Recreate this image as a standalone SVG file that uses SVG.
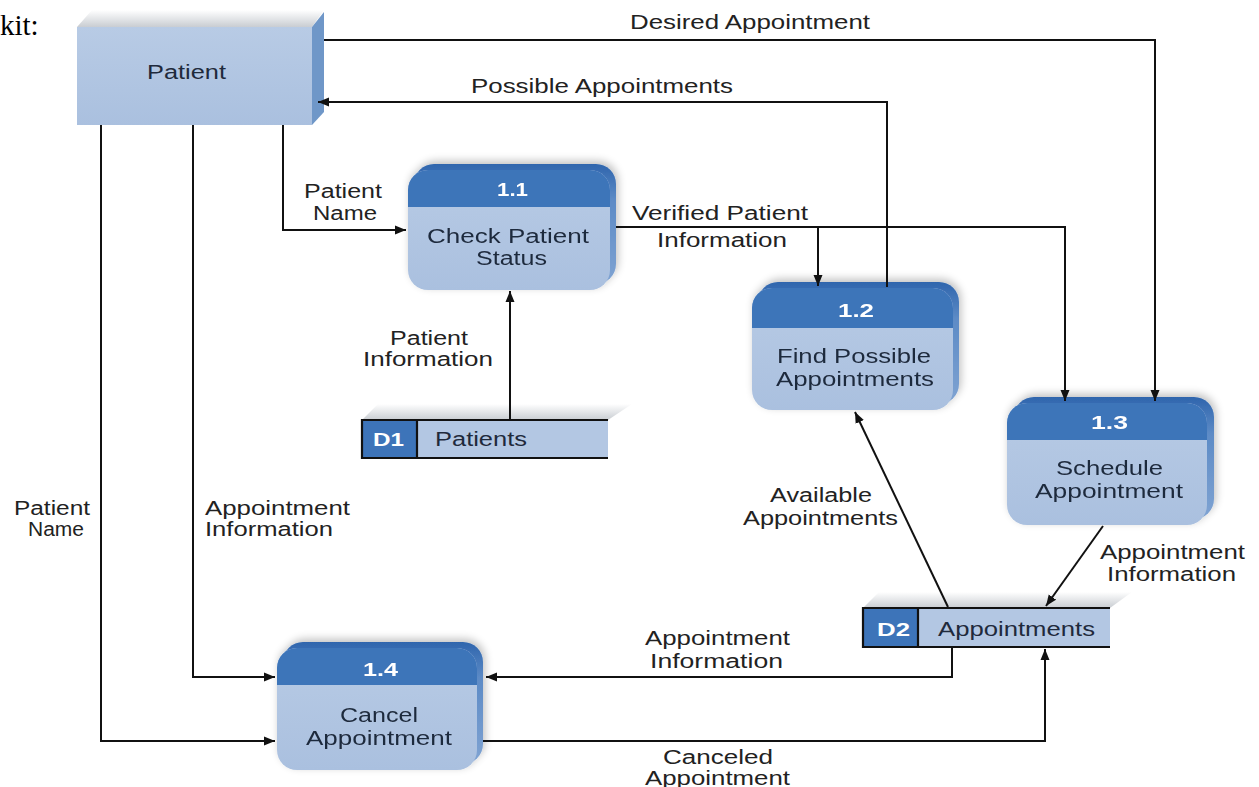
<svg xmlns="http://www.w3.org/2000/svg" width="1259" height="787" viewBox="0 0 1259 787">
<style>
.lbl{font-family:"Liberation Sans",Arial,sans-serif;font-size:20px;fill:#222;}
.nt{font-family:"Liberation Sans",Arial,sans-serif;font-size:20px;fill:#1f2a3c;}
.num{font-family:"Liberation Sans",Arial,sans-serif;font-size:18px;font-weight:bold;fill:#ffffff;}
.front{fill:#b3c7e3;}
.head{fill:#3d74b9;}
.edge{fill:none;stroke:#111;stroke-width:2.2;}
.con{fill:none;stroke:#111;stroke-width:2;}
</style>
<defs>
<marker id="arr" markerWidth="12" markerHeight="10" refX="11" refY="5" orient="auto" markerUnits="userSpaceOnUse">
<path d="M0,0.5 L11,5 L0,9.5 z" fill="#111"/>
</marker>
<linearGradient id="topg" x1="0" y1="0" x2="0" y2="1">
<stop offset="0" stop-color="#ffffff"/>
<stop offset="1" stop-color="#c9cdd2"/>
</linearGradient>
<linearGradient id="frontg" x1="0" y1="0" x2="0" y2="1">
<stop offset="0" stop-color="#b8cbe5"/>
<stop offset="1" stop-color="#aac0df"/>
</linearGradient>
<linearGradient id="sideg" x1="0" y1="0" x2="0" y2="1">
<stop offset="0" stop-color="#2f65ad"/>
<stop offset="0.3" stop-color="#5d8bc6"/>
<stop offset="1" stop-color="#7fa3d2"/>
</linearGradient>
<filter id="sh" x="-10%" y="-20%" width="125%" height="140%">
<feGaussianBlur in="SourceAlpha" stdDeviation="4"/>
<feOffset dx="2" dy="-3" result="b"/>
<feComponentTransfer><feFuncA type="linear" slope="0.25"/></feComponentTransfer>
<feMerge><feMergeNode/><feMergeNode in="SourceGraphic"/></feMerge>
</filter>
</defs>

<text x="0" y="35" style="font-family:'Liberation Serif','Times New Roman',serif;font-size:29px;fill:#000">kit:</text>

<g id="patient">
<polygon points="77,27 92,10 324,10 312,27" fill="url(#topg)"/>
<polygon points="312,27 324,12 324,112 312,125" fill="#6f97c8"/>
<rect x="77" y="27" width="235" height="98" fill="url(#frontg)"/>
<text class="nt" x="147" y="79" textLength="79" lengthAdjust="spacingAndGlyphs">Patient</text>
</g>

<g id="p11" filter="url(#sh)">
<rect x="414" y="164" width="202" height="120" rx="20" fill="url(#sideg)"/>
<rect x="408" y="170" width="202" height="120" rx="20" fill="url(#frontg)"/>
<path class="head" d="M408 207 V190 A20 20 0 0 1 428 170 H590 A20 20 0 0 1 610 190 V207 Z"/>
<text class="num" x="497" y="196" textLength="31" lengthAdjust="spacingAndGlyphs">1.1</text>
<text class="nt" x="427" y="243" textLength="162" lengthAdjust="spacingAndGlyphs">Check Patient</text>
<text class="nt" x="476" y="265" textLength="71" lengthAdjust="spacingAndGlyphs">Status</text>
</g>

<g id="p12" filter="url(#sh)">
<rect x="758" y="282" width="201" height="122" rx="20" fill="url(#sideg)"/>
<rect x="752" y="288" width="201" height="122" rx="20" fill="url(#frontg)"/>
<path class="head" d="M752 328 V308 A20 20 0 0 1 772 288 H933 A20 20 0 0 1 953 308 V328 Z"/>
<text class="num" x="838" y="317" textLength="36" lengthAdjust="spacingAndGlyphs">1.2</text>
<text class="nt" x="777" y="363" textLength="154" lengthAdjust="spacingAndGlyphs">Find Possible</text>
<text class="nt" x="776" y="386" textLength="158" lengthAdjust="spacingAndGlyphs">Appointments</text>
</g>

<g id="p13" filter="url(#sh)">
<rect x="1014" y="397" width="200" height="122" rx="20" fill="url(#sideg)"/>
<rect x="1007" y="403" width="200" height="122" rx="20" fill="url(#frontg)"/>
<path class="head" d="M1007 440 V423 A20 20 0 0 1 1027 403 H1187 A20 20 0 0 1 1207 423 V440 Z"/>
<text class="num" x="1091" y="429" textLength="37" lengthAdjust="spacingAndGlyphs">1.3</text>
<text class="nt" x="1056" y="475" textLength="107" lengthAdjust="spacingAndGlyphs">Schedule</text>
<text class="nt" x="1035" y="498" textLength="148" lengthAdjust="spacingAndGlyphs">Appointment</text>
</g>

<g id="p14" filter="url(#sh)">
<rect x="283" y="642" width="200" height="122" rx="20" fill="url(#sideg)"/>
<rect x="277" y="648" width="200" height="122" rx="20" fill="url(#frontg)"/>
<path class="head" d="M277 685 V668 A20 20 0 0 1 297 648 H457 A20 20 0 0 1 477 668 V685 Z"/>
<text class="num" x="363" y="676" textLength="35" lengthAdjust="spacingAndGlyphs">1.4</text>
<text class="nt" x="340" y="722" textLength="78" lengthAdjust="spacingAndGlyphs">Cancel</text>
<text class="nt" x="306" y="745" textLength="146" lengthAdjust="spacingAndGlyphs">Appointment</text>
</g>

<g id="d1">
<polygon points="362,420 378,404 632,404 608,420" fill="url(#topg)"/>
<rect x="362" y="420" width="246" height="38" class="front"/>
<rect x="362" y="420" width="55" height="38" class="head"/>
<path class="edge" d="M608 420 H362 V458 H608 M417 420 V458"/>
<text class="num" x="373" y="446" textLength="31" lengthAdjust="spacingAndGlyphs">D1</text>
<text class="nt" x="435" y="446" textLength="92" lengthAdjust="spacingAndGlyphs">Patients</text>
</g>

<g id="d2">
<polygon points="863,608 879,592 1132,592 1110,608" fill="url(#topg)"/>
<rect x="863" y="608" width="247" height="39" class="front"/>
<rect x="863" y="608" width="55" height="39" class="head"/>
<path class="edge" d="M1110 608 H863 V647 H1110 M918 608 V647"/>
<text class="num" x="877" y="636" textLength="33" lengthAdjust="spacingAndGlyphs">D2</text>
<text class="nt" x="938" y="636" textLength="157" lengthAdjust="spacingAndGlyphs">Appointments</text>
</g>

<g id="connectors">
<path class="con" d="M324 40 H1155 V401" marker-end="url(#arr)"/>
<path class="con" d="M887 287 V102 H318" marker-end="url(#arr)"/>
<path class="con" d="M283 125 V230 H406" marker-end="url(#arr)"/>
<path class="con" d="M616 227 H1065 V401" marker-end="url(#arr)"/>
<path class="con" d="M818 227 V286" marker-end="url(#arr)"/>
<path class="con" d="M510 420 V291" marker-end="url(#arr)"/>
<path class="con" d="M948 607 L855 412" marker-end="url(#arr)"/>
<path class="con" d="M1103 526 L1046 606" marker-end="url(#arr)"/>
<path class="con" d="M952 648 V677 H486" marker-end="url(#arr)"/>
<path class="con" d="M483 741 H1045 V649" marker-end="url(#arr)"/>
<path class="con" d="M193 125 V677 H275" marker-end="url(#arr)"/>
<path class="con" d="M101 125 V741 H275" marker-end="url(#arr)"/>
</g>

<g id="labels">
<text class="lbl" x="630" y="29" textLength="240" lengthAdjust="spacingAndGlyphs">Desired Appointment</text>
<text class="lbl" x="471" y="93" textLength="262" lengthAdjust="spacingAndGlyphs">Possible Appointments</text>
<text class="lbl" x="304" y="198" textLength="78" lengthAdjust="spacingAndGlyphs">Patient</text>
<text class="lbl" x="313" y="220" textLength="64" lengthAdjust="spacingAndGlyphs">Name</text>
<text class="lbl" x="632" y="220" textLength="176" lengthAdjust="spacingAndGlyphs">Verified Patient</text>
<text class="lbl" x="657" y="247" textLength="130" lengthAdjust="spacingAndGlyphs">Information</text>
<text class="lbl" x="390" y="345" textLength="78" lengthAdjust="spacingAndGlyphs">Patient</text>
<text class="lbl" x="363" y="366" textLength="130" lengthAdjust="spacingAndGlyphs">Information</text>
<text class="lbl" x="770" y="502" textLength="102" lengthAdjust="spacingAndGlyphs">Available</text>
<text class="lbl" x="743" y="525" textLength="155" lengthAdjust="spacingAndGlyphs">Appointments</text>
<text class="lbl" x="1100" y="559" textLength="145" lengthAdjust="spacingAndGlyphs">Appointment</text>
<text class="lbl" x="1107" y="581" textLength="129" lengthAdjust="spacingAndGlyphs">Information</text>
<text class="lbl" x="645" y="645" textLength="145" lengthAdjust="spacingAndGlyphs">Appointment</text>
<text class="lbl" x="650" y="668" textLength="133" lengthAdjust="spacingAndGlyphs">Information</text>
<text class="lbl" x="663" y="764" textLength="110" lengthAdjust="spacingAndGlyphs">Canceled</text>
<text class="lbl" x="645" y="785" textLength="145" lengthAdjust="spacingAndGlyphs">Appointment</text>
<text class="lbl" x="14" y="515" textLength="76" lengthAdjust="spacingAndGlyphs">Patient</text>
<text class="lbl" x="28" y="536" textLength="56" lengthAdjust="spacingAndGlyphs">Name</text>
<text class="lbl" x="205" y="515" textLength="145" lengthAdjust="spacingAndGlyphs">Appointment</text>
<text class="lbl" x="205" y="536" textLength="128" lengthAdjust="spacingAndGlyphs">Information</text>
</g>
</svg>
